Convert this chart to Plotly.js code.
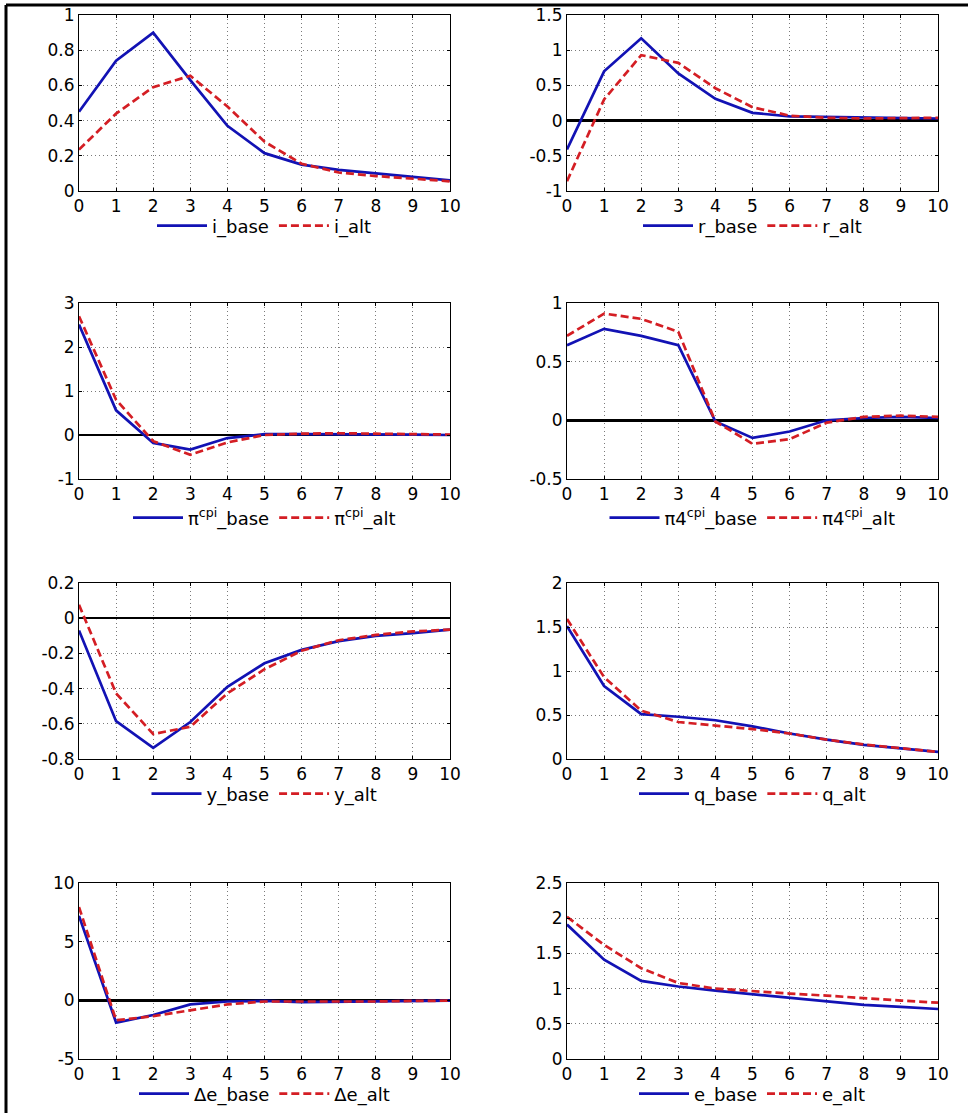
<!DOCTYPE html>
<html>
<head>
<meta charset="utf-8">
<script src="https://cdn.plot.ly/plotly-3.0.1.min.js"></script>
<style>html,body{margin:0;padding:0;background:#fff;}#chart{width:968px;height:1113px;}</style>
</head>
<body>
<div id="chart"></div>
<script>
// ---- data ----
var periods = [0, 1, 2, 3, 4, 5, 6, 7, 8, 9, 10];

var iBase = [0.45, 0.74, 0.90, 0.63, 0.37, 0.215, 0.15, 0.12, 0.10, 0.08, 0.06];
var iAlt  = [0.235, 0.44, 0.59, 0.655, 0.48, 0.28, 0.155, 0.105, 0.085, 0.07, 0.055];

var rBase = [-0.41, 0.70, 1.17, 0.67, 0.31, 0.11, 0.06, 0.05, 0.04, 0.035, 0.03];
var rAlt  = [-0.86, 0.30, 0.93, 0.82, 0.46, 0.19, 0.07, 0.04, 0.03, 0.03, 0.04];

var piBase = [2.51, 0.56, -0.18, -0.33, -0.07, 0.02, 0.02, 0.02, 0.02, 0.01, 0.0];
var piAlt  = [2.70, 0.80, -0.14, -0.45, -0.17, 0.0, 0.03, 0.04, 0.03, 0.02, 0.01];

var pi4Base = [0.64, 0.78, 0.72, 0.64, -0.01, -0.15, -0.095, 0.0, 0.02, 0.03, 0.02];
var pi4Alt  = [0.72, 0.91, 0.865, 0.755, -0.01, -0.20, -0.16, -0.02, 0.03, 0.04, 0.03];

var yBase = [-0.07, -0.585, -0.736, -0.59, -0.39, -0.256, -0.18, -0.13, -0.10, -0.085, -0.065];
var yAlt  = [0.076, -0.427, -0.658, -0.617, -0.427, -0.29, -0.185, -0.125, -0.095, -0.075, -0.065];

var qBase = [1.51, 0.83, 0.51, 0.48, 0.44, 0.37, 0.29, 0.22, 0.16, 0.12, 0.08];
var qAlt  = [1.59, 0.93, 0.55, 0.42, 0.38, 0.34, 0.29, 0.22, 0.165, 0.12, 0.08];

var deBase = [7.2, -1.9, -1.25, -0.35, -0.1, -0.05, -0.15, -0.12, -0.08, -0.05, -0.03];
var deAlt  = [7.95, -1.7, -1.35, -0.85, -0.35, -0.1, -0.1, -0.15, -0.1, -0.05, -0.03];

var eBase = [1.91, 1.41, 1.11, 1.03, 0.97, 0.92, 0.87, 0.82, 0.77, 0.74, 0.71];
var eAlt  = [2.02, 1.62, 1.29, 1.08, 1.00, 0.96, 0.93, 0.90, 0.86, 0.83, 0.80];

// tick labels
var xTickLabels = ['0','1','2','3','4','5','6','7','8','9','10'];
var iTicks   = [0, 0.2, 0.4, 0.6, 0.8, 1];
var iTickLbl = ['0','0.2','0.4','0.6','0.8','1'];
var rTicks   = [-1, -0.5, 0, 0.5, 1, 1.5];
var rTickLbl = ['-1','-0.5','0','0.5','1','1.5'];
var piTicks   = [-1, 0, 1, 2, 3];
var piTickLbl = ['-1','0','1','2','3'];
var pi4Ticks   = [-0.5, 0, 0.5, 1];
var pi4TickLbl = ['-0.5','0','0.5','1'];
var yTicks   = [-0.8, -0.6, -0.4, -0.2, 0, 0.2];
var yTickLbl = ['-0.8','-0.6','-0.4','-0.2','0','0.2'];
var qTicks   = [0, 0.5, 1, 1.5, 2];
var qTickLbl = ['0','0.5','1','1.5','2'];
var deTicks   = [-5, 0, 5, 10];
var deTickLbl = ['-5','0','5','10'];
var eTicks   = [0, 0.5, 1, 1.5, 2, 2.5];
var eTickLbl = ['0','0.5','1','1.5','2','2.5'];

var seriesNames = [
  ['i_base', 'i_alt'],
  ['r_base', 'r_alt'],
  ['\u03c0<sup>cpi</sup>_base', '\u03c0<sup>cpi</sup>_alt'],
  ['\u03c04<sup>cpi</sup>_base', '\u03c04<sup>cpi</sup>_alt'],
  ['y_base', 'y_alt'],
  ['q_base', 'q_alt'],
  ['\u0394e_base', '\u0394e_alt'],
  ['e_base', 'e_alt']
];

// ---- layout geometry ----
var W = 968, H = 1113;
var panels = [
  {base: iBase,   alt: iAlt,   ticks: iTicks,   lbl: iTickLbl,   range: [0, 1],      zero: false, col: 0, row: 0},
  {base: rBase,   alt: rAlt,   ticks: rTicks,   lbl: rTickLbl,   range: [-1, 1.5],   zero: true,  col: 1, row: 0},
  {base: piBase,  alt: piAlt,  ticks: piTicks,  lbl: piTickLbl,  range: [-1, 3],     zero: true,  col: 0, row: 1},
  {base: pi4Base, alt: pi4Alt, ticks: pi4Ticks, lbl: pi4TickLbl, range: [-0.5, 1],   zero: true,  col: 1, row: 1},
  {base: yBase,   alt: yAlt,   ticks: yTicks,   lbl: yTickLbl,   range: [-0.8, 0.2], zero: true,  col: 0, row: 2},
  {base: qBase,   alt: qAlt,   ticks: qTicks,   lbl: qTickLbl,   range: [0, 2],      zero: false, col: 1, row: 2},
  {base: deBase,  alt: deAlt,  ticks: deTicks,  lbl: deTickLbl,  range: [-5, 10],    zero: true,  col: 0, row: 3},
  {base: eBase,   alt: eAlt,   ticks: eTicks,   lbl: eTickLbl,   range: [0, 2.5],    zero: false, col: 1, row: 3}
];
var colX = [[79, 450], [567, 938]];
var rowY = [[15, 191], [303, 479], [583, 759], [883, 1059]];
var legendY = [226, 518, 794, 1094];

var FONT = 'DejaVu Sans, Liberation Sans, Arial, sans-serif';
var BLUE = '#1212b4';
var RED = '#d41e24';

var data = [];
var layout = {
  width: W, height: H,
  margin: {l: 0, r: 0, t: 0, b: 0},
  paper_bgcolor: '#ffffff',
  plot_bgcolor: '#ffffff',
  font: {family: FONT, size: 17, color: '#000'},
  showlegend: true,
  shapes: [
    {type: 'line', xref: 'paper', yref: 'paper', x0: 6 / W, x1: 6 / W, y0: 0, y1: 1 - 5 / H, line: {color: '#000', width: 3}},
    {type: 'line', xref: 'paper', yref: 'paper', x0: 6 / W, x1: 1, y0: 1 - 5 / H, y1: 1 - 5 / H, line: {color: '#000', width: 3}}
  ]
};

panels.forEach(function (p, k) {
  var n = k + 1;
  var xa = 'xaxis' + (n === 1 ? '' : n), ya = 'yaxis' + (n === 1 ? '' : n);
  var xr = 'x' + (n === 1 ? '' : n), yr = 'y' + (n === 1 ? '' : n);
  var lg = 'legend' + (n === 1 ? '' : n);
  var cx = colX[p.col], ry = rowY[p.row];

  data.push({
    x: periods, y: p.base, xaxis: xr, yaxis: yr, type: 'scatter', mode: 'lines',
    name: seriesNames[k][0], legend: lg,
    line: {color: BLUE, width: 2.7}
  });
  data.push({
    x: periods, y: p.alt, xaxis: xr, yaxis: yr, type: 'scatter', mode: 'lines',
    name: seriesNames[k][1], legend: lg,
    line: {color: RED, width: 2.7, dash: '8px,4px'}
  });

  layout[xa] = {
    domain: [cx[0] / W, cx[1] / W], anchor: yr,
    range: [0, 10], tickvals: periods, ticktext: xTickLabels,
    showline: true, linecolor: '#000', linewidth: 1, mirror: 'ticks',
    ticks: 'inside', ticklen: 3, tickcolor: '#000',
    showgrid: true, gridcolor: '#7a7a7a', gridwidth: 1, griddash: '1px,3px',
    zeroline: false, fixedrange: true,
    tickfont: {family: FONT, size: 17, color: '#000'}
  };
  layout[ya] = {
    domain: [1 - ry[1] / H, 1 - ry[0] / H], anchor: xr,
    range: p.range, tickvals: p.ticks, ticktext: p.lbl,
    showline: true, linecolor: '#000', linewidth: 1, mirror: 'ticks',
    ticks: 'inside', ticklen: 3, tickcolor: '#000',
    showgrid: true, gridcolor: '#7a7a7a', gridwidth: 1, griddash: '1px,3px',
    zeroline: p.zero, zerolinecolor: '#000', zerolinewidth: 2.5,
    ticklabelstandoff: 0, fixedrange: true,
    tickfont: {family: FONT, size: 17, color: '#000'}
  };
  layout[lg] = {
    orientation: 'h',
    x: (cx[0] + cx[1]) / 2 / W, xanchor: 'center',
    y: 1 - legendY[p.row] / H, yanchor: 'middle',
    bgcolor: 'rgba(0,0,0,0)', borderwidth: 0,
    font: {family: FONT, size: 18, color: '#000'},
    itemwidth: 50, tracegroupgap: 0
  };
});

Plotly.newPlot('chart', data, layout, {staticPlot: true, displayModeBar: false});
</script>
</body>
</html>
